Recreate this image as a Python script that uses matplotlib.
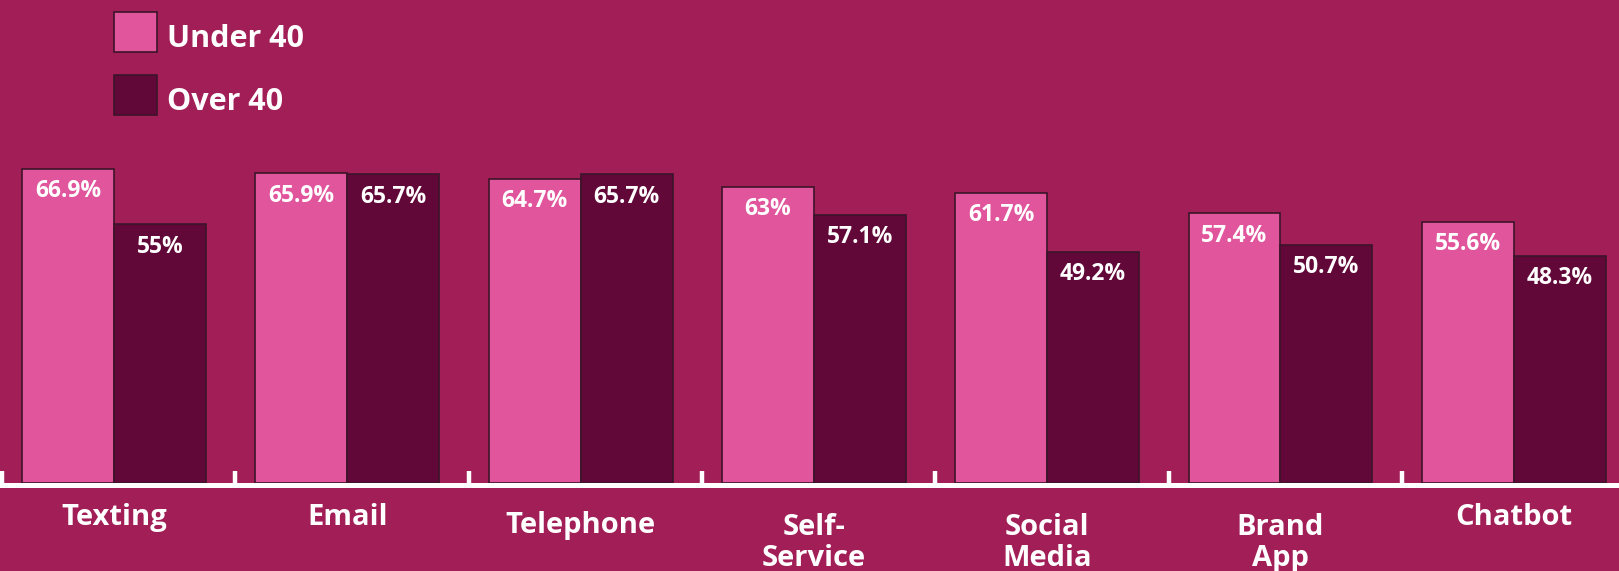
import matplotlib.pyplot as plt
from matplotlib.patches import Rectangle

# data
channels = ["Texting", "Email", "Telephone", "Self-\nService", "Social\nMedia", "Brand\nApp", "Chatbot"]
series = ["Under 40", "Over 40"]
under_40 = [66.9, 65.9, 64.7, 63, 61.7, 57.4, 55.6]
over_40 = [55, 65.7, 65.7, 57.1, 49.2, 50.7, 48.3]

BG = "#A21E57"
PINK = "#E0559B"
DARK = "#620839"
EDGE = "#3B1529"
FONT = "Open Sans"

W, H = 1619, 571
fig = plt.figure(figsize=(W / 100, H / 100), dpi=100, facecolor=BG)
ax = fig.add_axes([0, 0, 1, 1])
ax.set_facecolor(BG)

# pixel mapping: tick k at x = 2 + 233.3*k, value 0 at y = 483, 4.7 px per unit
step = 233.3
ax.set_xlim(-2 / step, (W - 2) / step)
ax.set_ylim((483 - H) / 4.7, 483 / 4.7)

bw = 0.394
x = list(range(len(channels)))
x1 = [i + 0.283 for i in x]
x2 = [i + 0.677 for i in x]
b1 = ax.bar(x1, under_40, width=bw, color=PINK, edgecolor=EDGE, linewidth=1.2, zorder=2)
b2 = ax.bar(x2, over_40, width=bw, color=DARK, edgecolor=EDGE, linewidth=1.2, zorder=2)

for bars, vals in ((b1, under_40), (b2, over_40)):
    for r, v in zip(bars, vals):
        lab = f"{v:g}%"
        ax.annotate(lab, (r.get_x() + r.get_width() / 2, v), xytext=(0, -7.5),
                    textcoords="offset points", ha="center", va="top",
                    color="white", fontsize=16.5, fontweight="bold", family=FONT, zorder=3)

# axis line and ticks
ax.axhline(-0.53, color="white", lw=3.6, zorder=4)
ax.vlines(x, -0.5, 2.55, color="white", lw=3.2, zorder=4)

# category labels (some sit lower than others, as in the source)
base_px = [525, 525, 533, 533, 533, 533, 525]
for i, (lab, bp) in enumerate(zip(channels, base_px)):
    last = bp + 33 * lab.count("\n")
    ax.text(i + 0.48, (483 - last) / 4.7, lab, ha="center", va="baseline",
            color="white", fontsize=21, fontweight="bold", family=FONT,
            linespacing=1.1, zorder=3)

ax.axis("off")

# legend
for j, (name, col) in enumerate(zip(series, [PINK, DARK])):
    top = 12 + j * 63
    fig.add_artist(Rectangle((114 / W, 1 - (top + 40) / H), 43 / W, 40 / H,
                             transform=fig.transFigure, facecolor=col,
                             edgecolor=EDGE, linewidth=1.2))
    fig.text(167 / W, 1 - (top + 35) / H, name, ha="left", va="baseline",
             color="white", fontsize=22, fontweight="bold", family=FONT)

fig.savefig("out.png", dpi=100, facecolor=BG)
